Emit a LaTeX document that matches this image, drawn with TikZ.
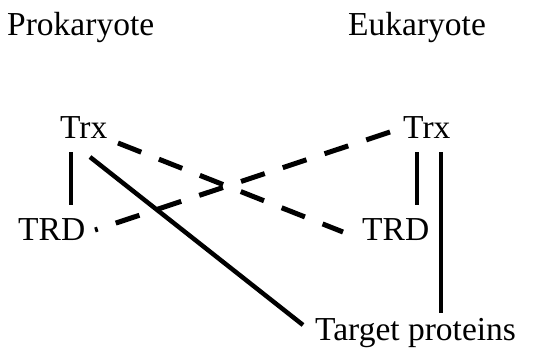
\documentclass[tikz,border=0pt]{standalone}
\usepackage{fontspec}
\setmainfont{Liberation Serif}
\begin{document}
\begin{tikzpicture}[x=1pt,y=-1pt,
  lbl/.style={anchor=base west,inner sep=0pt,font=\fontsize{33.5}{40}\selectfont},
  solidline/.style={line width=4.5pt},
  dashline/.style={line width=5pt,dash pattern=on 25pt off 19pt}]
\useasboundingbox (0,0) rectangle (549,349);
\node[lbl] (pro) at (7,35) {Prokaryote};
\node[lbl] (euk) at (348,35) {Eukaryote};
\node[lbl] (trxL) at (60,138) {Trx};
\node[lbl] (trxR) at (403,138) {Trx};
\node[lbl] (trdL) at (18,240) {TRD};
\node[lbl] (trdR) at (362,240) {TRD};
\node[lbl] (tgt) at (315,340) {Target proteins};
\draw[solidline] ([shift={(11,14)}]trxL.base west) -- ([shift={(53,-35)}]trdL.base west);
\draw[solidline] ([shift={(30,19)}]trxL.base west) -- ([shift={(-12,-15)}]tgt.base west);
\draw[solidline] ([shift={(14,14)}]trxR.base west) -- ([shift={(55,-35)}]trdR.base west);
\draw[solidline] ([shift={(38,14)}]trxR.base west) -- ([shift={(126,-27)}]tgt.base west);
\draw[dashline] ([shift={(58,5)}]trxL.base west) -- ([shift={(-19,-8)}]trdR.base west);
\draw[dashline] ([shift={(-13,-6)}]trxR.base west) -- ([shift={(77,-10)}]trdL.base west);
\end{tikzpicture}
\end{document}
